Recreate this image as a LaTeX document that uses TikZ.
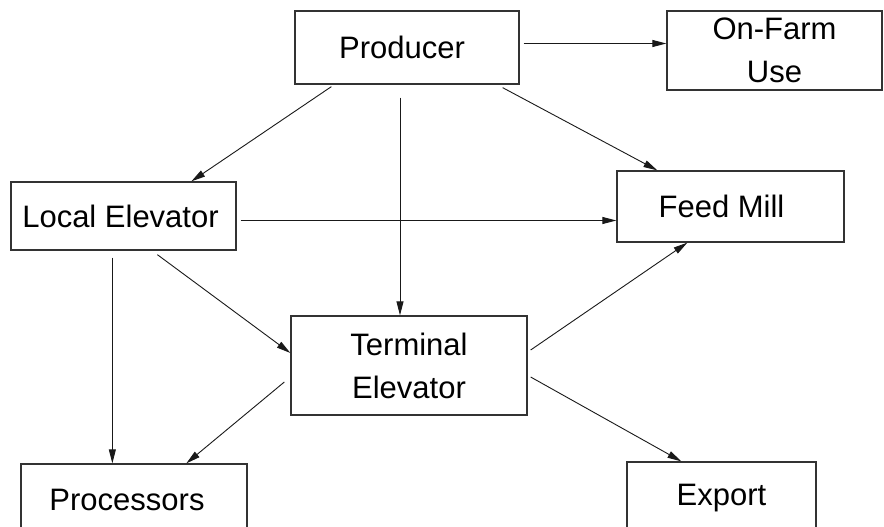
\documentclass[tikz,border=0pt]{standalone}
\usepackage{fontspec}
\setmainfont{Liberation Sans}
\usetikzlibrary{arrows.meta}
\tikzset{
  flowbox/.style={draw=black!80, line width=1.3pt, rectangle, inner sep=0pt,
    font=\fontsize{31}{43}\selectfont, align=center},
  arr/.style={-{Triangle[length=14pt,width=7pt]}, line width=0.9pt, draw=black!90}
}
\begin{document}
\begin{tikzpicture}[x=1pt,y=-1pt]
\useasboundingbox (0,0) rectangle (884,527);
\node[flowbox, minimum width=224pt, minimum height=73pt] (prod) at (407,47.5) {Producer\hspace{10pt}};
\node[flowbox, minimum width=215pt, minimum height=79pt] (farm) at (774.5,50.5) {On-Farm\\Use};
\node[flowbox, minimum width=225pt, minimum height=68pt] (local) at (123.5,216) {Local Elevator\hspace{6pt}};
\node[flowbox, minimum width=227pt, minimum height=71pt] (feed) at (730.5,206.5) {Feed Mill\hspace{18pt}};
\node[flowbox, minimum width=236pt, minimum height=99pt] (term) at (409,365.5) {Terminal\hspace{12pt}\\Elevator};
\node[flowbox, minimum width=226pt, minimum height=72pt] (proc) at (134,500) {Processors\hspace{14pt}};
\node[flowbox, minimum width=189pt, minimum height=72pt] (export) at (721.5,498) {Export};

\draw[arr] ([shift={(4,-4)}]prod.east) -- ([shift={(0,-7)}]farm.west);
\draw[arr] ([shift={(37,2)}]prod.south west) -- ([shift={(181,0)}]local.north west);
\draw[arr] ([shift={(-7,13)}]prod.south) -- ([shift={(-9,0)}]term.north);
\draw[arr] ([shift={(-17,3)}]prod.south east) -- ([shift={(41,0)}]feed.north west);
\draw[arr] ([shift={(4,4.5)}]local.east) -- ([shift={(0,14)}]feed.west);
\draw[arr] ([shift={(102,7)}]local.south west) -- ([shift={(92,0)}]proc.north west);
\draw[arr] ([shift={(147,4)}]local.south west) -- ([shift={(0,-12.5)}]term.west);
\draw[arr] ([shift={(3,-15.5)}]term.east) -- ([shift={(71,0)}]feed.south west);
\draw[arr] ([shift={(-6,16.5)}]term.west) -- ([shift={(166,0)}]proc.north west);
\draw[arr] ([shift={(3,11.5)}]term.east) -- ([shift={(55,0)}]export.north west);
\end{tikzpicture}
\end{document}
